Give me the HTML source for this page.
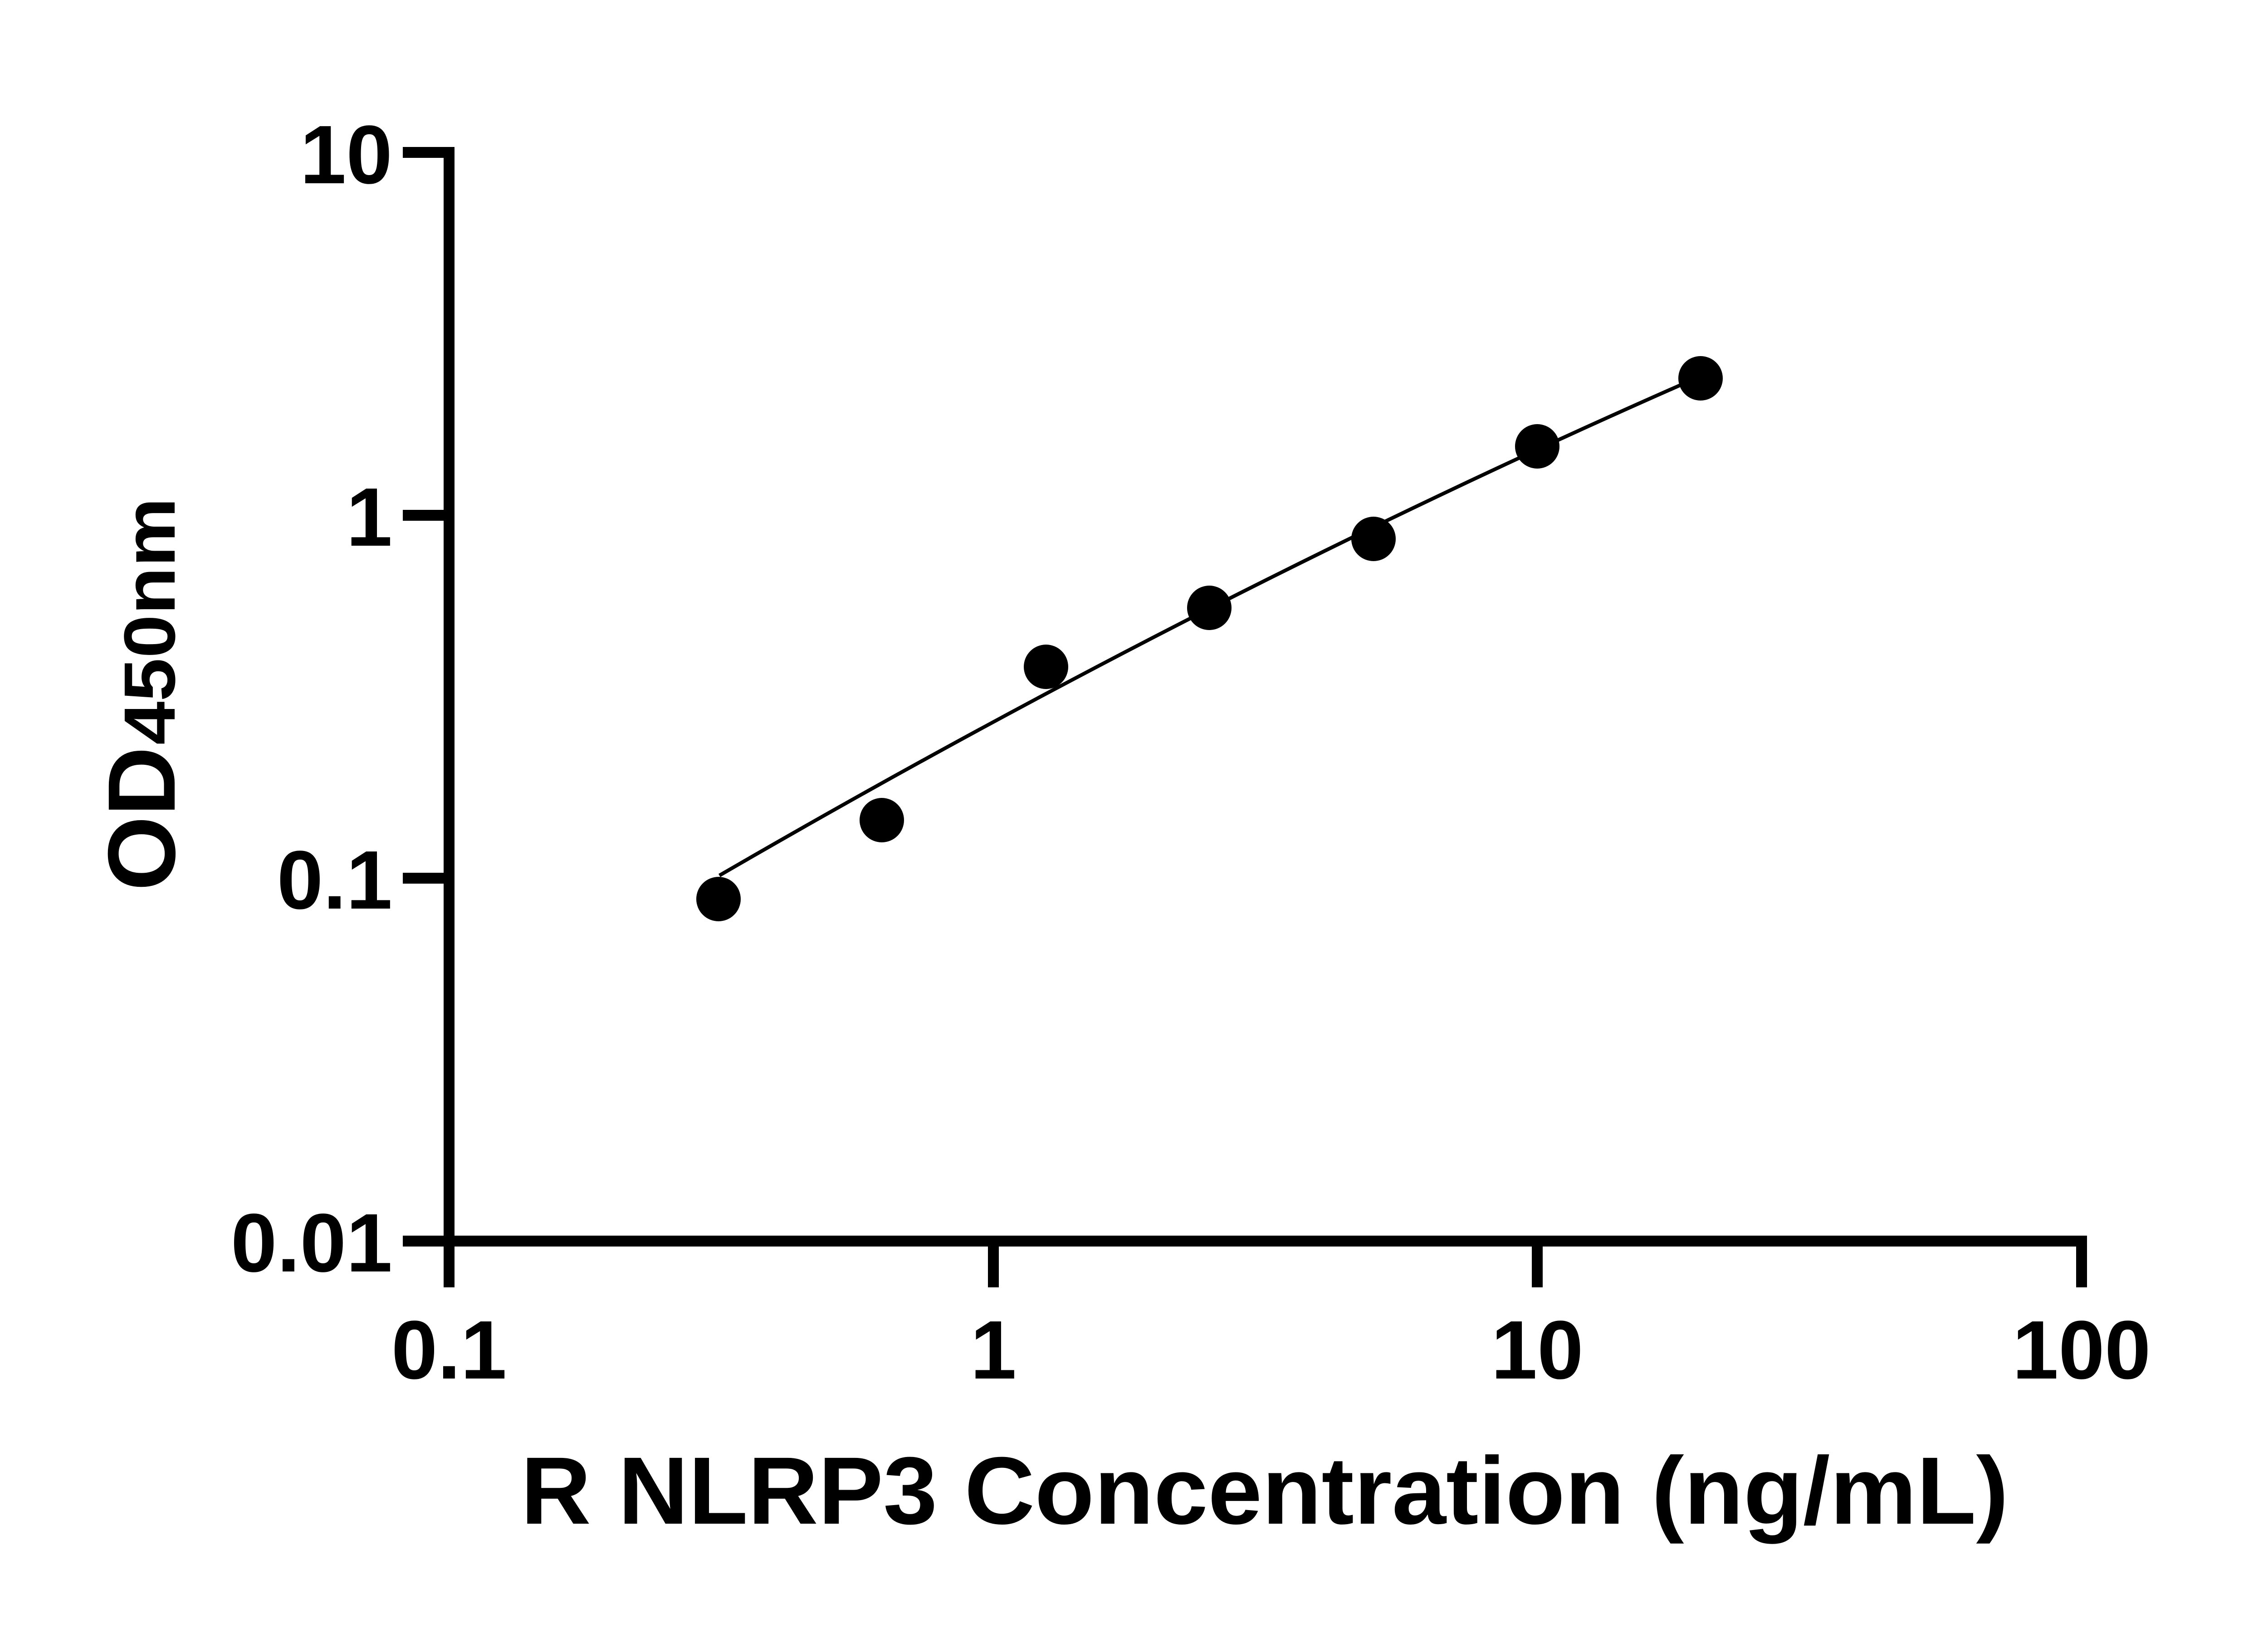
<!DOCTYPE html>
<html>
<head>
<meta charset="utf-8">
<style>
  html, body { margin: 0; padding: 0; background: #ffffff; }
  svg { display: block; }
  text { font-family: "Liberation Sans", Arial, sans-serif; font-weight: bold; fill: #000; }
</style>
</head>
<body>
<svg width="5142" height="3600" viewBox="0 0 5142 3600" xmlns="http://www.w3.org/2000/svg">
  <rect x="0" y="0" width="5142" height="3600" fill="#ffffff"/>

  <!-- Y axis -->
  <rect x="978" y="324" width="24" height="2424" fill="#000"/>
  <!-- Y ticks -->
  <rect x="888" y="324" width="114" height="24" fill="#000"/>
  <rect x="888" y="1124" width="114" height="24" fill="#000"/>
  <rect x="888" y="1924" width="114" height="24" fill="#000"/>
  <rect x="888" y="2724" width="114" height="24" fill="#000"/>

  <!-- X axis -->
  <rect x="978" y="2724" width="3623" height="24" fill="#000"/>
  <!-- X ticks -->
  <rect x="978" y="2724" width="24" height="114" fill="#000"/>
  <rect x="2178" y="2724" width="24" height="114" fill="#000"/>
  <rect x="3377" y="2724" width="24" height="114" fill="#000"/>
  <rect x="4577" y="2724" width="24" height="114" fill="#000"/>

  <!-- Y tick labels -->
  <text x="865" y="404" font-size="183" text-anchor="end">10</text>
  <text x="865" y="1203" font-size="183" text-anchor="end">1</text>
  <text x="865" y="2003" font-size="183" text-anchor="end">0.1</text>
  <text x="865" y="2803" font-size="183" text-anchor="end">0.01</text>

  <!-- X tick labels -->
  <text x="990" y="3039" font-size="183" text-anchor="middle">0.1</text>
  <text x="2190" y="3039" font-size="183" text-anchor="middle">1</text>
  <text x="3389" y="3039" font-size="183" text-anchor="middle">10</text>
  <text x="4589" y="3039" font-size="183" text-anchor="middle">100</text>

  <!-- X axis title -->
  <text x="1148" y="3359" font-size="211" textLength="3280" lengthAdjust="spacingAndGlyphs">R NLRP3 Concentration (ng/mL)</text>

  <!-- Y axis title -->
  <text transform="translate(385,1964) rotate(-90)" x="0" y="0" font-size="211" textLength="318" lengthAdjust="spacingAndGlyphs">OD</text>
  <text transform="translate(385,1642) rotate(-90)" x="0" y="0" font-size="160" textLength="545" lengthAdjust="spacingAndGlyphs">450nm</text>

  <!-- Fitted curve -->
  <path d="M1586,1930 Q2668,1302.2 3750,829" fill="none" stroke="#000" stroke-width="8"/>

  <!-- Data points -->
  <circle cx="1584" cy="1982" r="49" fill="#000"/>
  <circle cx="1944" cy="1808" r="49" fill="#000"/>
  <circle cx="2306" cy="1470" r="49" fill="#000"/>
  <circle cx="2666" cy="1340" r="49" fill="#000"/>
  <circle cx="3028" cy="1188" r="49" fill="#000"/>
  <circle cx="3389" cy="984" r="49" fill="#000"/>
  <circle cx="3749" cy="834" r="49" fill="#000"/>
</svg>
</body>
</html>
